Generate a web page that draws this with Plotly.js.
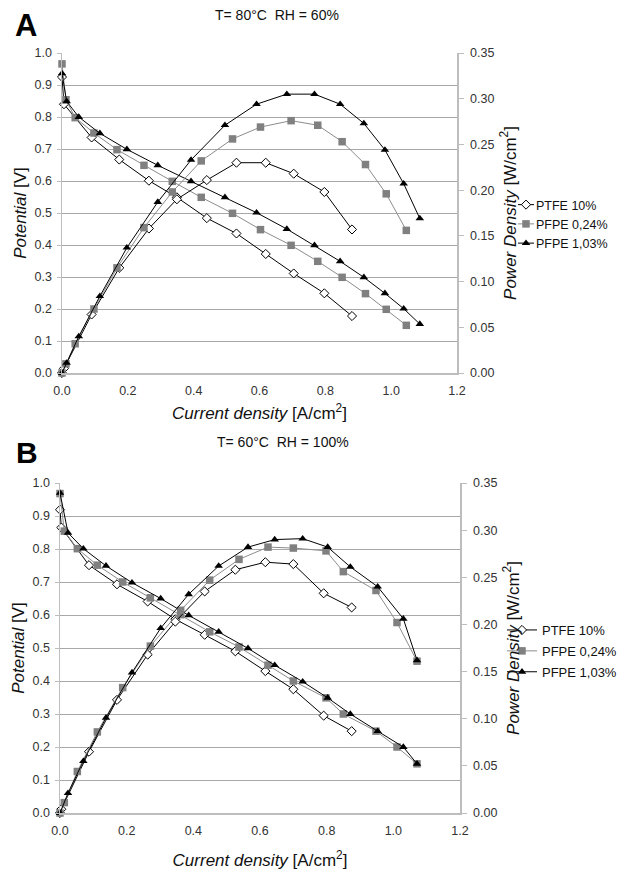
<!DOCTYPE html>
<html>
<head>
<meta charset="utf-8">
<script src="https://cdn.plot.ly/plotly-3.0.1.min.js"></script>
<style>html,body{margin:0;padding:0;background:#fff;}#chart{width:628px;height:872px;}</style>
</head>
<body>
<div id="chart"></div>
<script>
// ---------- Panel A : T = 80°C, RH = 60% ----------
const seriesNames = ["PTFE 10%", "PFPE 0,24%", "PFPE 1,03%"];

const A_ptfe_I = [0, 0.006, 0.090, 0.174, 0.264, 0.349, 0.440, 0.530, 0.619, 0.704, 0.797, 0.881];
const A_ptfe_V = [0.925, 0.840, 0.736, 0.667, 0.601, 0.549, 0.484, 0.436, 0.372, 0.311, 0.249, 0.178];
const A_ptfe_P = [0, 0.005, 0.064, 0.115, 0.158, 0.190, 0.211, 0.230, 0.230, 0.218, 0.198, 0.157];

const A_p024_I = [0, 0.012, 0.040, 0.097, 0.167, 0.249, 0.335, 0.423, 0.518, 0.603, 0.696, 0.777, 0.851, 0.922, 0.985, 1.046];
const A_p024_V = [0.966, 0.854, 0.798, 0.750, 0.698, 0.649, 0.599, 0.549, 0.499, 0.448, 0.399, 0.349, 0.299, 0.248, 0.199, 0.149];
const A_p024_P = [0, 0.010, 0.032, 0.070, 0.115, 0.159, 0.198, 0.232, 0.256, 0.269, 0.276, 0.271, 0.253, 0.228, 0.196, 0.156];

const A_p103_I = [0, 0.014, 0.051, 0.115, 0.197, 0.291, 0.392, 0.495, 0.591, 0.683, 0.767, 0.845, 0.917, 0.981, 1.038, 1.087];
const A_p103_V = [0.936, 0.849, 0.800, 0.749, 0.699, 0.649, 0.599, 0.549, 0.501, 0.450, 0.399, 0.349, 0.299, 0.249, 0.201, 0.153];
const A_p103_P = [0, 0.011, 0.040, 0.084, 0.137, 0.187, 0.233, 0.271, 0.294, 0.305, 0.305, 0.294, 0.273, 0.244, 0.207, 0.169];

// ---------- Panel B : T = 60°C, RH = 100% ----------
const B_ptfe_I = [0, 0.004, 0.087, 0.171, 0.263, 0.346, 0.434, 0.526, 0.616, 0.700, 0.791, 0.875];
const B_ptfe_V = [0.919, 0.865, 0.751, 0.693, 0.641, 0.587, 0.540, 0.490, 0.430, 0.375, 0.295, 0.248];
const B_ptfe_P = [0, 0.004, 0.065, 0.120, 0.168, 0.203, 0.235, 0.258, 0.266, 0.264, 0.233, 0.218];

const B_p024_I = [0, 0.013, 0.052, 0.112, 0.188, 0.271, 0.362, 0.449, 0.537, 0.624, 0.700, 0.798, 0.850, 0.948, 1.011, 1.071];
const B_p024_V = [0.968, 0.854, 0.801, 0.751, 0.700, 0.652, 0.601, 0.549, 0.503, 0.448, 0.400, 0.349, 0.300, 0.248, 0.200, 0.149];
const B_p024_P = [0, 0.011, 0.044, 0.086, 0.133, 0.177, 0.215, 0.247, 0.269, 0.282, 0.281, 0.278, 0.256, 0.236, 0.202, 0.161];

const B_p103_I = [0, 0.024, 0.070, 0.138, 0.216, 0.302, 0.386, 0.476, 0.564, 0.644, 0.728, 0.803, 0.871, 0.953, 1.030, 1.071];
const B_p103_V = [0.970, 0.849, 0.801, 0.749, 0.698, 0.650, 0.599, 0.549, 0.499, 0.448, 0.398, 0.349, 0.300, 0.248, 0.200, 0.149];
const B_p103_P = [0, 0.021, 0.055, 0.101, 0.149, 0.196, 0.232, 0.262, 0.282, 0.290, 0.291, 0.282, 0.261, 0.240, 0.206, 0.162];

const panelHeaders = ["T= 80°C\u00a0\u00a0RH = 60%", "T= 60°C\u00a0\u00a0RH = 100%"];
const panelLetters = ["A", "B"];

// ---------- styles ----------
const styles = [
  {marker: {symbol: "diamond", size: 7, color: "#ffffff", line: {color: "#000000", width: 1}}, line: {color: "#000000", width: 1}},
  {marker: {symbol: "square", size: 7.5, color: "#808080", line: {color: "#808080", width: 0}}, line: {color: "#8c8c8c", width: 1}},
  {marker: {symbol: "triangle-up", size: 7.5, color: "#000000", line: {color: "#000000", width: 0}}, line: {color: "#000000", width: 1}}
];

function mk(x, y, i, xa, ya, show, leg) {
  return {
    type: "scatter", mode: "lines+markers", x: x, y: y,
    name: seriesNames[i], xaxis: xa, yaxis: ya,
    marker: styles[i].marker, line: styles[i].line,
    showlegend: show, legend: leg, legendgroup: leg + i, cliponaxis: false
  };
}

const data = [
  mk(A_ptfe_I, A_ptfe_V, 0, "x", "y", true, "legend"),
  mk(A_p024_I, A_p024_V, 1, "x", "y", true, "legend"),
  mk(A_p103_I, A_p103_V, 2, "x", "y", true, "legend"),
  mk(A_ptfe_I, A_ptfe_P, 0, "x", "y2", false, "legend"),
  mk(A_p024_I, A_p024_P, 1, "x", "y2", false, "legend"),
  mk(A_p103_I, A_p103_P, 2, "x", "y2", false, "legend"),
  mk(B_ptfe_I, B_ptfe_V, 0, "x2", "y3", true, "legend2"),
  mk(B_p024_I, B_p024_V, 1, "x2", "y3", true, "legend2"),
  mk(B_p103_I, B_p103_V, 2, "x2", "y3", true, "legend2"),
  mk(B_ptfe_I, B_ptfe_P, 0, "x2", "y4", false, "legend2"),
  mk(B_p024_I, B_p024_P, 1, "x2", "y4", false, "legend2"),
  mk(B_p103_I, B_p103_P, 2, "x2", "y4", false, "legend2")
];

const W = 628, H = 872;
const FONT = "Liberation Sans, Arial, sans-serif";
const tickFont = {family: FONT, size: 12.5, color: "#333333"};
const titleFont = {family: FONT, size: 17, color: "#111111"};
const axisLine = "#bdbdbd";
const gridCol = "#a8a8a8";

function xAx(dom, anchor, standoff) {
  return {domain: dom, anchor: anchor, range: [0, 1.2], dtick: 0.2, tick0: 0, tickformat: ".1f",
    showline: true, linecolor: axisLine, linewidth: 1.5, ticks: "", showgrid: false, zeroline: false,
    tickfont: tickFont, ticklabelstandoff: 5, fixedrange: true,
    title: {text: "<i>Current density</i> [A/cm<sup>2</sup>]", font: titleFont, standoff: standoff}};
}
function yLeft(dom, anchor) {
  return {domain: dom, anchor: anchor, range: [0, 1.0], dtick: 0.1, tick0: 0, tickformat: ".1f",
    showline: true, linecolor: axisLine, linewidth: 1.5, ticks: "outside", ticklen: 4, tickcolor: axisLine,
    showgrid: true, gridcolor: gridCol, gridwidth: 1, zeroline: false, tickfont: tickFont, ticklabelstandoff: 2,
    title: {text: "<i>Potential</i> [V]", font: titleFont, standoff: 3}};
}
function yRight(over, anchor) {
  return {overlaying: over, side: "right", anchor: anchor, range: [0, 0.35], dtick: 0.05, tick0: 0, tickformat: ".2f",
    showline: true, linecolor: axisLine, linewidth: 1.5, ticks: "outside", ticklen: 5, tickcolor: axisLine,
    showgrid: false, zeroline: false, tickfont: tickFont, ticklabelstandoff: 4,
    title: {text: "<i>Power Density</i> [W/cm<sup>2</sup>]", font: titleFont, standoff: 10}};
}

const legendBase = {xanchor: "left", yanchor: "top", bgcolor: "rgba(0,0,0,0)", borderwidth: 0,
  itemwidth: 30};

const layout = {
  width: W, height: H,
  margin: {l: 0, r: 0, t: 0, b: 0},
  paper_bgcolor: "#ffffff", plot_bgcolor: "#ffffff",
  font: {family: FONT, color: "#111111"},
  xaxis: xAx([62 / W, 457 / W], "y", 10),
  yaxis: yLeft([1 - 373 / H, 1 - 53 / H], "x"),
  yaxis2: yRight("y", "x"),
  xaxis2: xAx([60 / W, 460 / W], "y3", 17),
  yaxis3: yLeft([1 - 813 / H, 1 - 483 / H], "x2"),
  yaxis4: yRight("y3", "x2"),
  legend: Object.assign({}, legendBase, {x: 496 / W, y: 1 - 190 / H, tracegroupgap: 0,
    font: {family: FONT, size: 12.5, color: "#111111"}}),
  legend2: Object.assign({}, legendBase, {x: 502 / W, y: 1 - 615 / H, tracegroupgap: 1,
    font: {family: FONT, size: 13, color: "#111111"}}),
  annotations: [
    {text: panelHeaders[0], x: 277 / W, y: 1 - 15 / H, xref: "paper", yref: "paper", showarrow: false,
     xanchor: "center", yanchor: "middle", font: {family: FONT, size: 14, color: "#111111"}},
    {text: panelHeaders[1], x: 283 / W, y: 1 - 442 / H, xref: "paper", yref: "paper", showarrow: false,
     xanchor: "center", yanchor: "middle", font: {family: FONT, size: 14, color: "#111111"}},
    {text: "<b>" + panelLetters[0] + "</b>", x: 26 / W, y: 1 - 25 / H, xref: "paper", yref: "paper", showarrow: false,
     xanchor: "center", yanchor: "middle", font: {family: FONT, size: 31, color: "#000000"}},
    {text: "<b>" + panelLetters[1] + "</b>", x: 27 / W, y: 1 - 453 / H, xref: "paper", yref: "paper", showarrow: false,
     xanchor: "center", yanchor: "middle", font: {family: FONT, size: 30, color: "#000000"}}
  ],
  showlegend: true
};

Plotly.newPlot("chart", data, layout, {staticPlot: true, displayModeBar: false}).then(function (gd) {
  // compact legend keys (short line with marker just before the label), as in the reference
  gd.querySelectorAll(".legend .traces").forEach(function (tr) {
    tr.querySelectorAll(".legendlines path").forEach(function (p) { p.setAttribute("d", "M22,0h16"); });
    tr.querySelectorAll(".legendpoints path").forEach(function (p) { p.setAttribute("transform", "translate(30,0)"); });
  });
});
</script>
</body>
</html>
